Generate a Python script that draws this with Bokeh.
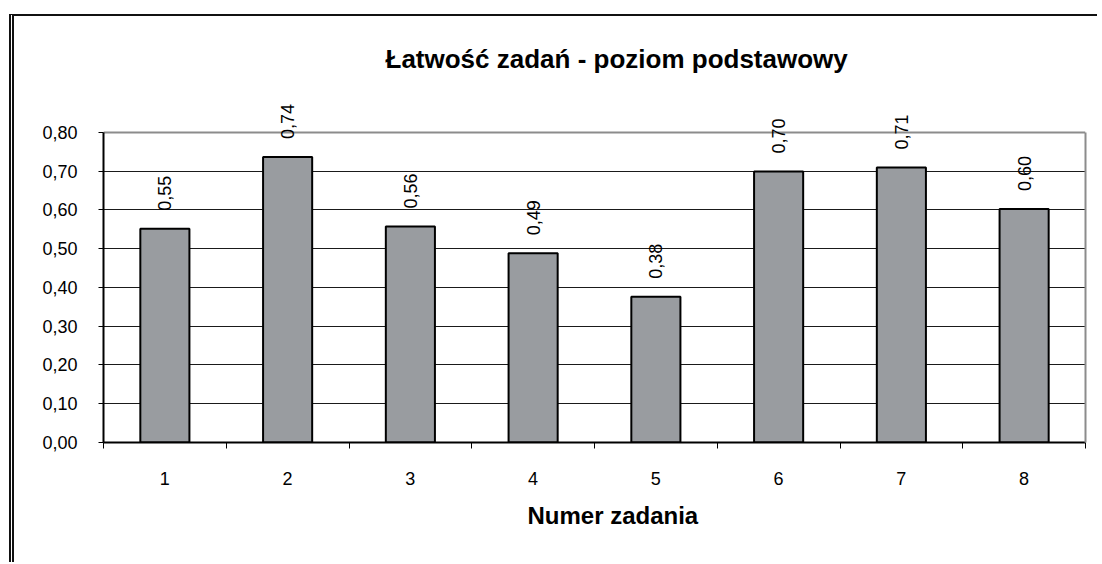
import math
from bokeh.plotting import figure
from bokeh.models import Range1d, FixedTicker, Label, Title, LinearAxis, Grid, ColumnDataSource
from bokeh.embed import file_html
from bokeh.resources import INLINE

# ---- data ----
tasks = [1, 2, 3, 4, 5, 6, 7, 8]
task_labels = ["1", "2", "3", "4", "5", "6", "7", "8"]
easiness = [0.551, 0.736, 0.557, 0.488, 0.376, 0.699, 0.709, 0.602]
value_labels = ["0,55", "0,74", "0,56", "0,49", "0,38", "0,70", "0,71", "0,60"]
y_ticks = [0.0, 0.1, 0.2, 0.3, 0.4, 0.5, 0.6, 0.7, 0.8]
y_tick_labels = ["0,00", "0,10", "0,20", "0,30", "0,40", "0,50", "0,60", "0,70", "0,80"]
title_text = "Łatwość zadań - poziom podstawowy"
x_title = "Numer zadania"

FONT = "Liberation Sans"
Y_MAX = 0.8

# canvas starts at page (14, 16) because of the css frame border/margins.
# The frame reaches a bit above 0.80 so the rotated value labels are not clipped;
# the visible plot area (0..0.80) is bounded by axes with bounds.
p = figure(width=1088, height=548, output_backend="svg", toolbar_location=None,
           x_range=Range1d(0.5, 8.5), y_range=Range1d(0, 0.9),
           min_border_left=89, min_border_right=17, min_border_top=77, min_border_bottom=122)
p.styles = {"margin-left": "9px", "margin-top": "14px",
            "border-top": "2px solid #111111", "border-left": "5px double #111111"}
p.background_fill_color = "white"
p.border_fill_color = "white"
p.outline_line_color = None

src = ColumnDataSource(dict(x=tasks, top=easiness))
p.vbar(x="x", top="top", bottom=0, width=0.4, source=src,
       fill_color="#999ca0", line_color="black", line_width=2)

for xv, yv, txt in zip(tasks, easiness, value_labels):
    p.add_layout(Label(x=xv, y=yv, text=txt, angle=math.pi / 2,
                       y_offset=18, text_align="left", text_baseline="middle",
                       text_font=FONT, text_font_size="18px", text_color="black"))

# grid
p.xgrid.visible = False
p.ygrid.ticker = FixedTicker(ticks=y_ticks[1:-1])
p.ygrid.grid_line_color = "#1a1a1a"
p.ygrid.grid_line_width = 1
p.add_layout(Grid(dimension=1, ticker=FixedTicker(ticks=[Y_MAX]),
                  grid_line_color="#8c8c8c", grid_line_width=2))

# y axis
ya = p.yaxis[0]
ya.bounds = (0, Y_MAX)
ya.ticker = FixedTicker(ticks=y_ticks)
ya.major_label_overrides = {t: l for t, l in zip(y_ticks, y_tick_labels)}
ya.axis_line_color = "black"
ya.axis_line_width = 2
ya.major_tick_line_color = "black"
ya.major_tick_out = 5
ya.major_tick_in = 0
ya.minor_tick_line_color = None
ya.major_label_standoff = 21
ya.major_label_text_font = FONT
ya.major_label_text_font_size = "18px"
ya.major_label_text_color = "black"

# right frame edge (grey)
ra = LinearAxis(bounds=(0, Y_MAX), ticker=FixedTicker(ticks=[]),
                axis_line_color="#8c8c8c", axis_line_width=2,
                major_tick_line_color=None, minor_tick_line_color=None,
                major_label_text_font_size="0px")
p.add_layout(ra, "right")

# x axis
xa = p.xaxis[0]
xa.ticker = FixedTicker(ticks=tasks, minor_ticks=[t - 0.5 for t in tasks] + [tasks[-1] + 0.5])
xa.major_label_overrides = {t: l for t, l in zip(tasks, task_labels)}
xa.axis_line_color = "black"
xa.axis_line_width = 2
xa.major_tick_line_color = None
xa.major_tick_out = 0
xa.major_tick_in = 0
xa.minor_tick_line_color = "black"
xa.minor_tick_out = 6
xa.minor_tick_in = 0
xa.major_label_standoff = 23
xa.major_label_text_font = FONT
xa.major_label_text_font_size = "18px"
xa.major_label_text_color = "black"

# titles
p.title = Title(text=title_text, align="left", offset=282, standoff=39,
                text_font=FONT, text_font_size="26px", text_font_style="bold",
                text_color="black")
p.add_layout(Title(text=x_title, align="left", offset=424, standoff=24,
                   text_font=FONT, text_font_size="24px", text_font_style="bold",
                   text_color="black"), "below")

open("out.html", "w").write(file_html(p, INLINE))
